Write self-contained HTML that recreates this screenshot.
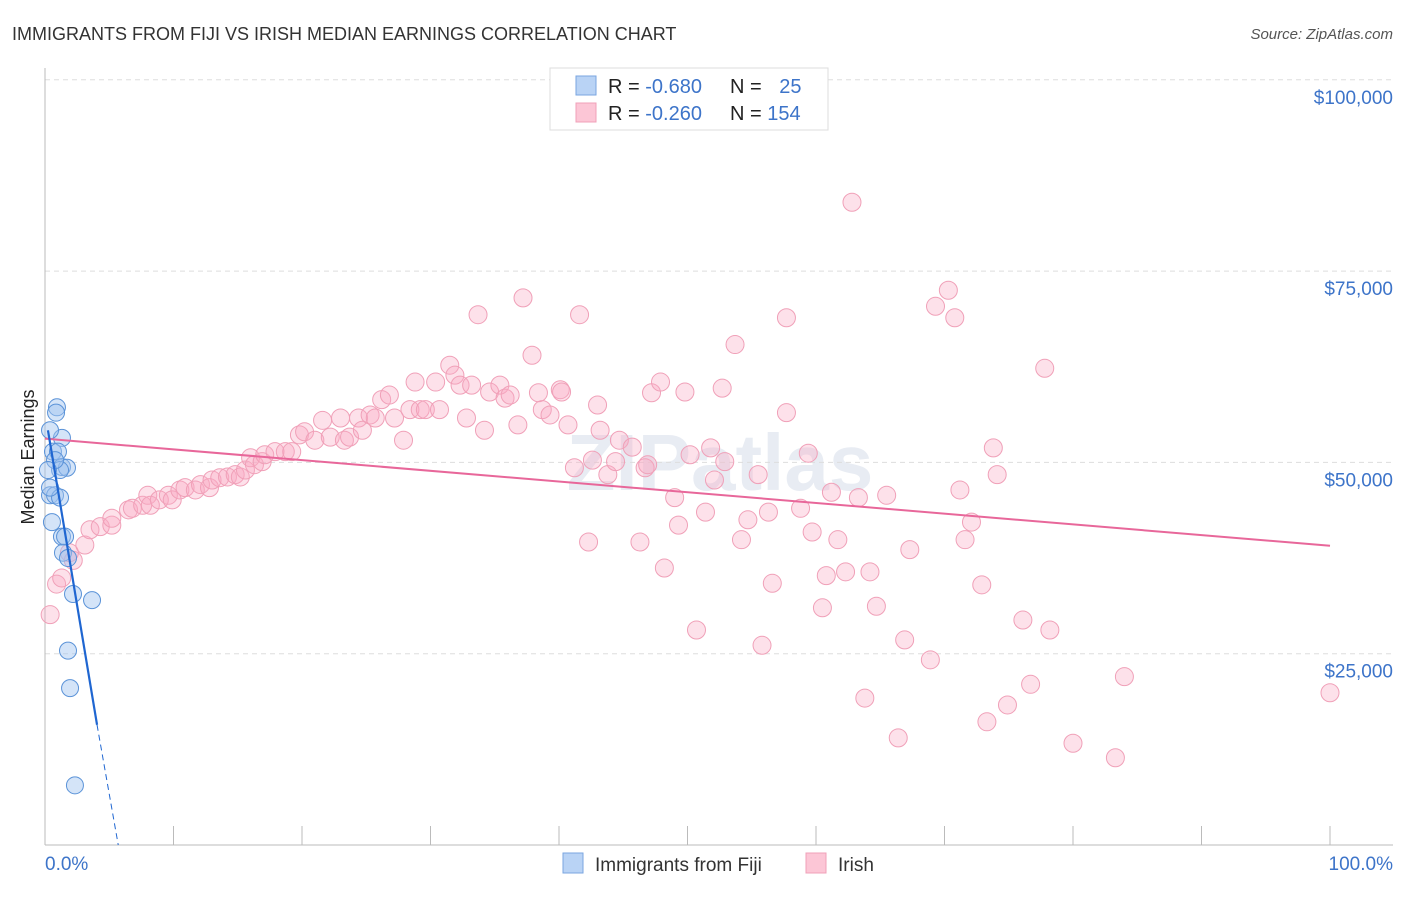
<!DOCTYPE html>
<html><head><meta charset="utf-8"><style>
body{margin:0;background:#fff;font-family:"Liberation Sans",sans-serif}
svg text{font-family:"Liberation Sans",sans-serif}
</style></head><body>
<svg width="1406" height="892" xmlns="http://www.w3.org/2000/svg">
<text x="12" y="40" font-size="18" fill="#333">IMMIGRANTS FROM FIJI VS IRISH MEDIAN EARNINGS CORRELATION CHART</text>
<text x="1393" y="39" font-size="15" fill="#555" text-anchor="end" font-style="italic">Source: ZipAtlas.com</text>
<text x="720" y="490" font-size="80" fill="#e8ecf3" text-anchor="middle" font-weight="bold">ZIPatlas</text>
<g id="grid"></g>
<g id="axes"></g>
<g id="irish"></g>
<g id="fiji"></g>
<g id="lines"></g>
<text transform="translate(34,457) rotate(-90)" font-size="18" fill="#222" text-anchor="middle">Median Earnings</text>
<g>
<rect x="550" y="68" width="278" height="62" fill="#fff" stroke="#ddd"/>
<rect x="576" y="76" width="20" height="19" fill="#b9d3f5" stroke="#7aa6e0"/>
<rect x="576" y="103" width="20" height="19" fill="#fcc6d6" stroke="#f0a0b8"/>
<text x="608" y="93" font-size="20" fill="#222">R = <tspan fill="#3d74c9">-0.680</tspan></text>
<text x="730" y="93" font-size="20" fill="#222">N = <tspan fill="#3d74c9" dx="12">25</tspan></text>
<text x="608" y="120" font-size="20" fill="#222">R = <tspan fill="#3d74c9">-0.260</tspan></text>
<text x="730" y="120" font-size="20" fill="#222">N = <tspan fill="#3d74c9">154</tspan></text>
</g>
<g>
<rect x="563" y="853" width="20" height="20" fill="#b9d3f5" stroke="#7aa6e0"/>
<text x="595" y="871" font-size="19" fill="#333">Immigrants from Fiji</text></g>
<g>
<rect x="806" y="853" width="20" height="20" fill="#fcc6d6" stroke="#f0a0b8"/>
<text x="838" y="871" font-size="19" fill="#333">Irish</text></g>
</svg>
<script>
const yTicks=[25000,50000,75000,100000];
const yTickLabels=["$25,000","$50,000","$75,000","$100,000"];
const xTickLabels=["0.0%","100.0%"];
const fijiX=[0.93,0.86,1.32,0.39,0.62,1.01,1.32,1.71,1.17,0.78,0.39,0.78,1.17,0.54,1.32,1.56,1.40,1.79,2.18,3.66,1.79,1.95,2.33,0.23,0.39];
const fijiY=[57.2,56.5,53.2,54.2,51.4,51.4,49.4,49.3,49.0,50.3,45.7,45.7,45.4,42.2,40.3,40.3,38.2,37.5,32.8,32.0,25.4,20.5,7.8,49.0,46.7];
const irishX=[0.4,0.9,1.3,2.2,1.9,3.1,3.5,4.3,5.2,5.2,6.5,6.8,7.6,8.0,8.2,8.9,9.6,9.9,10.5,10.9,11.7,12.1,12.8,13.0,13.6,14.2,14.8,15.2,15.6,16.0,16.3,16.9,17.1,17.9,18.7,19.2,19.8,20.2,21.0,21.6,22.2,23.0,23.3,23.7,24.4,24.7,25.3,25.7,26.2,26.8,27.2,27.9,28.4,28.8,29.2,29.6,30.4,30.7,31.5,31.9,32.3,32.8,33.2,33.7,34.2,34.6,35.4,35.8,36.2,36.8,37.2,37.9,38.4,38.7,39.3,40.1,40.2,40.7,41.2,41.6,42.3,42.6,43.0,43.2,43.8,44.4,44.7,45.7,46.3,46.7,46.9,47.2,47.9,48.2,49.0,49.3,49.8,50.2,50.7,51.4,51.8,52.1,52.7,52.9,53.7,54.2,54.7,55.5,55.8,56.3,56.6,57.7,57.7,58.8,59.4,59.7,60.5,60.8,61.2,61.7,62.3,62.8,63.3,63.8,64.2,64.7,65.5,66.4,66.9,67.3,68.9,69.3,70.3,70.8,71.2,71.6,72.1,72.9,73.3,73.8,74.1,74.9,76.1,76.7,77.8,78.2,80.0,83.3,84.0,100.0];
const irishY=[30.1,34.1,34.9,37.2,38.2,39.2,41.2,41.6,41.8,42.7,43.8,44.0,44.4,45.7,44.4,45.1,45.7,45.1,46.4,46.7,46.4,47.1,46.7,47.7,48.0,48.1,48.4,48.1,49.0,50.6,49.7,50.1,51.0,51.4,51.4,51.4,53.6,54.0,52.9,55.5,53.3,55.8,52.9,53.3,55.8,54.2,56.2,55.8,58.2,58.8,55.8,52.9,56.9,60.5,56.9,56.9,60.5,56.9,62.7,61.4,60.1,55.8,60.1,69.3,54.2,59.2,60.1,58.4,58.8,54.9,71.5,64.0,59.1,56.9,56.2,59.5,59.2,54.9,49.3,69.3,39.6,50.3,57.5,54.2,48.4,50.1,52.9,52.0,39.6,49.3,49.7,59.1,60.5,36.2,45.4,41.8,59.2,51.0,28.1,43.5,51.9,47.7,59.7,50.1,65.4,39.9,42.5,48.4,26.1,43.5,34.2,56.5,68.9,44.0,51.2,40.9,31.0,35.2,46.1,39.9,35.7,84.0,45.4,19.2,35.7,31.2,45.7,14.0,26.8,38.6,24.2,70.4,72.5,68.9,46.4,39.9,42.2,34.0,16.1,51.9,48.4,18.3,29.4,21.0,62.3,28.1,13.3,11.4,22.0,19.9];
const fijiTrendX=[0.23,4.05,5.7];
const fijiTrendY=[54.2,15.7,0];
const irishTrendX=[0,100];
const irishTrendY=[53.1,39.1];
const NS="http://www.w3.org/2000/svg";
const X0=45,X1=1330,Y0=845,PXK=191.3/25;
const sx=v=>X0+v/100*(X1-X0);
const sy=v=>Y0-v*PXK;
function mk(t,a,p){const e=document.createElementNS(NS,t);for(const k in a)e.setAttribute(k,a[k]);document.getElementById(p).appendChild(e);return e;}
yTicks.forEach((t,i)=>{
 const g=mk('line',{x1:X0,x2:1393,y1:sy(t/1000),y2:sy(t/1000),stroke:'#ddd','stroke-dasharray':'5,4'},'grid');
 
 
 const l=mk('text',{x:1393,y:sy(t/1000)+24,'text-anchor':'end','font-size':19,fill:'#3d74c9'},'grid');
 l.textContent=yTickLabels[i];
 
 
});
let a=mk('line',{x1:X0,x2:X0,y1:68,y2:Y0,stroke:'#bbb'},'axes');


a=mk('line',{x1:X0,x2:1393,y1:Y0,y2:Y0,stroke:'#bbb'},'axes');


for(let k=1;k<=10;k++){const t=mk('line',{x1:sx(k*10),x2:sx(k*10),y1:826,y2:Y0,stroke:'#bbb'},'axes');
 
 }
[[xTickLabels[0],X0,'start'],[xTickLabels[1],1393,'end']].forEach(d=>{const t=mk('text',{x:d[1],y:870,'text-anchor':d[2],'font-size':19,fill:'#3d74c9'},'axes');t.textContent=d[0];
 
 });
irishX.forEach((x,i)=>{const c=mk('circle',{cx:sx(x),cy:sy(irishY[i]),r:9,fill:'rgba(248,170,195,0.35)',stroke:'#f0a0b8','stroke-width':1},'irish');
 
 });
fijiX.forEach((x,i)=>{const c=mk('circle',{cx:sx(x),cy:sy(fijiY[i]),r:8.5,fill:'rgba(160,195,240,0.45)',stroke:'#5b93d8','stroke-width':1},'fiji');
 
 });
let t=mk('line',{x1:sx(irishTrendX[0]),y1:sy(irishTrendY[0]),x2:sx(irishTrendX[1]),y2:sy(irishTrendY[1]),stroke:'#e8679a','stroke-width':2},'lines');


t=mk('line',{x1:sx(fijiTrendX[0]),y1:sy(fijiTrendY[0]),x2:sx(fijiTrendX[1]),y2:sy(fijiTrendY[1]),stroke:'#1f66d1','stroke-width':2.2},'lines');


t=mk('line',{x1:sx(fijiTrendX[1]),y1:sy(fijiTrendY[1]),x2:sx(fijiTrendX[2]),y2:sy(fijiTrendY[2]),stroke:'#1f66d1','stroke-width':1,'stroke-dasharray':'6,4'},'lines');


</script>
</body></html>
